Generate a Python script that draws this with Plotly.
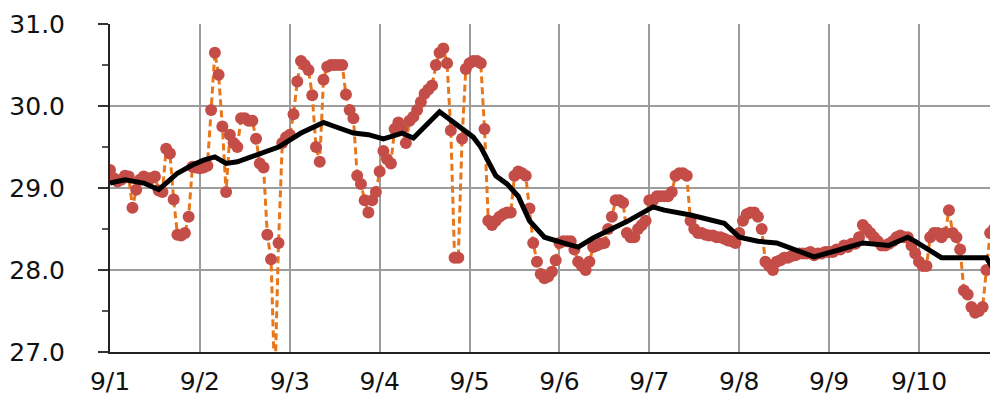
import pandas as pd
import plotly.graph_objects as go

start = pd.Timestamp("2021-09-01")

# hourly readings (red markers joined by an orange dashed line)
dot_values = [
    29.22, 29.12, 29.08, 29.10, 29.15, 29.14, 28.76, 28.98, 29.10, 29.14,
    29.12, 29.12, 29.14, 28.97, 28.95, 29.48, 29.42, 28.86, 28.43, 28.42,
    28.45, 28.65, 29.26, 29.25, 29.24, 29.25, 29.27, 29.95, 30.65, 30.38,
    29.75, 28.95, 29.65, 29.55, 29.50, 29.85, 29.85, 29.82, 29.82, 29.60,
    29.30, 29.25, 28.43, 28.13, 26.60, 28.33, 29.55, 29.62, 29.65, 29.90,
    30.30, 30.55, 30.50, 30.44, 30.13, 29.50, 29.32, 30.32, 30.48, 30.50,
    30.50, 30.50, 30.50, 30.14, 29.95, 29.85, 29.15, 29.05, 28.85, 28.70,
    28.85, 28.95, 29.20, 29.45, 29.35, 29.30, 29.72, 29.80, 29.72, 29.55,
    29.82, 29.87, 29.95, 30.05, 30.15, 30.20, 30.25, 30.50, 30.65, 30.70,
    30.52, 29.70, 28.15, 28.15, 29.60, 30.45, 30.52, 30.55, 30.55, 30.52,
    29.72, 28.60, 28.55, 28.60, 28.65, 28.68, 28.70, 28.70, 29.15, 29.20,
    29.18, 29.15, 28.75, 28.33, 28.10, 27.95, 27.90, 27.92, 27.98, 28.12,
    28.33, 28.35, 28.35, 28.35, 28.25, 28.10, 28.05, 28.00, 28.10, 28.28,
    28.30, 28.32, 28.33, 28.50, 28.65, 28.85, 28.85, 28.82, 28.45, 28.40,
    28.40, 28.50, 28.55, 28.60, 28.85, 28.85, 28.90, 28.90, 28.90, 28.90,
    28.95, 29.15, 29.18, 29.18, 29.15, 28.60, 28.50, 28.45, 28.45, 28.43,
    28.42, 28.42, 28.40, 28.40, 28.38, 28.36, 28.35, 28.33, 28.45, 28.60,
    28.68, 28.70, 28.70, 28.65, 28.50, 28.10, 28.05, 28.00, 28.10, 28.12,
    28.15, 28.15, 28.17, 28.18, 28.20, 28.20, 28.20, 28.22, 28.18, 28.20,
    28.20, 28.22, 28.22, 28.22, 28.25, 28.25, 28.30, 28.28, 28.32, 28.32,
    28.40, 28.55, 28.50, 28.45, 28.40, 28.35, 28.30, 28.30, 28.32, 28.35,
    28.40, 28.42, 28.40, 28.40, 28.30, 28.20, 28.10, 28.05, 28.05, 28.40,
    28.45, 28.45, 28.40, 28.45, 28.73, 28.45, 28.40, 28.25, 27.75, 27.70,
    27.55, 27.48, 27.50, 27.55, 28.00, 28.45, 28.50, 28.50,
]
dot_hours = list(range(len(dot_values)))

# smoothed (black) line
black_hours = [0, 4, 9, 13, 15, 18, 22, 25, 28, 31, 34, 39, 45, 51, 55, 57, 60,
               65, 69, 73, 78, 81, 88, 93, 97, 99, 103, 106, 109, 112, 116, 121,
               125, 129, 138, 145, 148, 155, 161, 164, 168, 173, 178, 188, 195,
               201, 208, 213, 215, 222, 230, 234, 236, 237]
black_values = [29.06, 29.10, 29.06, 28.98, 29.06, 29.18, 29.28, 29.34, 29.38,
                29.30, 29.32, 29.40, 29.50, 29.67, 29.75, 29.80, 29.75, 29.67,
                29.65, 29.60, 29.67, 29.61, 29.93, 29.75, 29.62, 29.50, 29.15,
                29.05, 28.90, 28.60, 28.40, 28.33, 28.28, 28.39, 28.59, 28.77,
                28.73, 28.67, 28.61, 28.57, 28.40, 28.35, 28.33, 28.16, 28.25,
                28.33, 28.30, 28.40, 28.35, 28.15, 28.15, 28.15, 28.00, 27.95]

day_labels = ["9/1", "9/2", "9/3", "9/4", "9/5", "9/6", "9/7", "9/8", "9/9", "9/10"]

x_dots = start + pd.to_timedelta(dot_hours, unit="h")
x_black = start + pd.to_timedelta(black_hours, unit="h")
tick_days = [start + pd.Timedelta(days=i) for i in range(len(day_labels))]

FONT = "DejaVu Sans"

fig = go.Figure()
fig.add_trace(go.Scatter(
    x=x_dots, y=dot_values, mode="lines+markers",
    line=dict(color="#E8761A", width=3, dash="7px,4px"),
    marker=dict(color="#C44D48", size=12, line=dict(width=0)),
))
fig.add_trace(go.Scatter(
    x=x_black, y=black_values, mode="lines",
    line=dict(color="#000000", width=5),
))

fig.update_layout(
    width=990, height=392,
    margin=dict(l=102, r=0, t=16, b=48, autoexpand=False),
    paper_bgcolor="white", plot_bgcolor="white",
    showlegend=False,
    font=dict(family=FONT, size=25, color="#111111"),
)
fig.update_xaxes(
    range=[start, start + pd.Timedelta(hours=237.1)],
    tickvals=tick_days, ticktext=day_labels,
    showgrid=True, gridcolor="#9c9c9c", gridwidth=1.5,
    showline=True, linecolor="#222222", linewidth=2,
    ticks="", ticklabelstandoff=6,
    tickfont=dict(family=FONT, size=25, color="#111111"),
    zeroline=False, automargin=False,
)
fig.update_yaxes(
    range=[27, 31], dtick=1, tick0=27, tickformat=".1f",
    showgrid=True, gridcolor="#9c9c9c", gridwidth=1.5,
    showline=True, linecolor="#222222", linewidth=2,
    ticks="outside", ticklen=10, tickcolor="#333333", tickwidth=2,
    minor=dict(dtick=0.5, ticks="outside", ticklen=6, tickcolor="#555555", showgrid=False),
    ticklabelstandoff=28,
    tickfont=dict(family=FONT, size=25, color="#111111"),
    zeroline=False, automargin=False,
)

fig.write_html("out.html")
